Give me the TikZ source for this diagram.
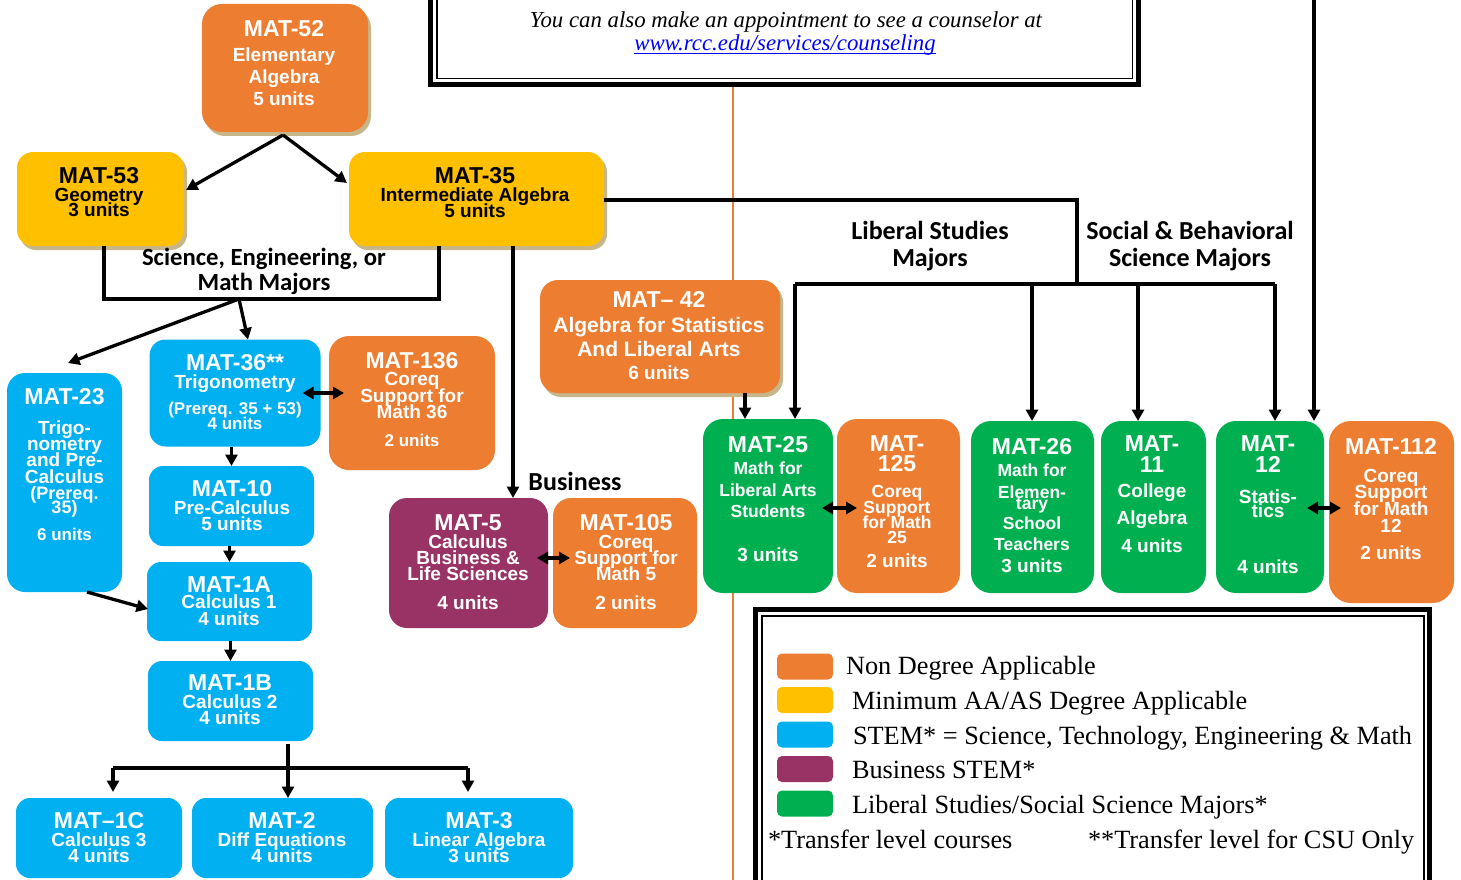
\documentclass[tikz,border=0pt]{standalone}
\usepackage{fontspec}
\setmainfont{Liberation Serif}
\setsansfont{Liberation Sans}
\newfontfamily\labfont{Carlito}
\usetikzlibrary{arrows.meta,calc,shadows}
\definecolor{corange}{HTML}{ED7D31}
\definecolor{cyellow}{HTML}{FFC000}
\definecolor{cblue}{HTML}{00B0F0}
\definecolor{cpurple}{HTML}{993366}
\definecolor{cgreen}{HTML}{00B050}
\definecolor{cshadow}{HTML}{C6B68A}
\definecolor{clinkc}{HTML}{0000FF}
\newcommand\fs[2]{{\fontsize{#1}{0}\selectfont #2}}
\newcommand\ttl[1]{{\fontsize{23}{0}\selectfont #1}\rule{0pt}{20pt}}
\newcommand\tightls{\lineskiplimit=-200pt\relax}
\begin{document}
\begin{tikzpicture}[x=1pt,y=-1pt,
 box/.style={rectangle, rounded corners=16pt, inner sep=0pt, outer sep=0pt},
 shd/.style={drop shadow={shadow xshift=3pt, shadow yshift=-4pt, fill=cshadow, opacity=1}},
 ctext/.style={inner sep=0pt, outer sep=0pt, align=center, anchor=north, text=white, font={\sffamily\bfseries\fontsize{19}{0}\selectfont\tightls}},
 dtext/.style={ctext, text=black},
 ln/.style={line width=3.3pt, black},
 arr/.style={ln, -{Triangle[length=11.5pt,width=12pt]}},
 darr/.style={ln, {Triangle[length=11pt,width=12pt]}-{Triangle[length=11pt,width=12pt]}},
 lab/.style={inner sep=0pt, outer sep=0pt, align=center, anchor=north, font={\labfont\bfseries\fontsize{26}{0}\selectfont\tightls}},
 leg/.style={inner sep=0pt, outer sep=0pt, anchor=base west, font={\rmfamily\fontsize{26.3}{30}\selectfont}},
 swatch/.style={rectangle, rounded corners=5pt, minimum width=56pt, minimum height=26pt, inner sep=0pt, outer sep=0pt}
]
\fill[white] (0,0) rectangle (1461,880);
\useasboundingbox (0,0) rectangle (1461,880);

% thin orange guide line
\draw[corange, line width=1.4pt] (733,87) -- (733,885);

% top note frame
\draw[line width=5pt] (430.5,-10) -- (430.5,84.5) -- (1138.5,84.5) -- (1138.5,-10);
\draw[line width=1.5pt] (437,-10) -- (437,78.5) -- (1132.5,78.5) -- (1132.5,-10);
\node[anchor=base, inner sep=0pt, font={\rmfamily\itshape\fontsize{22.8}{24}\selectfont}] (note) at (786,28) {You can also make an appointment to see a counselor at};
\node[anchor=base, inner sep=0pt, text=clinkc, font={\rmfamily\itshape\fontsize{22.8}{24}\selectfont}] (lnk) at (785,51) {www.rcc.edu/services/counseling};
\draw[clinkc, line width=1.3pt] ([yshift=-2.5pt]lnk.base west) -- ([yshift=-2.5pt]lnk.base east);

% legend frame
\draw[line width=5pt] (755.5,890) -- (755.5,609.5) -- (1429.5,609.5) -- (1429.5,890);
\draw[line width=1.5pt] (762,890) -- (762,616) -- (1424,616) -- (1424,890);
\node[swatch, fill=corange] (s1) at (805,666.5) {};
\node[swatch, fill=cyellow] (s2) at (805,700) {};
\node[swatch, fill=cblue] (s3) at (805,734.5) {};
\node[swatch, fill=cpurple] (s4) at (805,769) {};
\node[swatch, fill=cgreen] (s5) at (805,803.5) {};
\node[leg] (g1) at (846,674) {Non Degree Applicable};
\node[leg] (g2) at (852,709) {Minimum AA/AS Degree Applicable};
\node[leg] (g3) at (853,744) {STEM* = Science, Technology, Engineering \& Math};
\node[leg] (g4) at (852,778) {Business STEM*};
\node[leg] (g5) at (852,813) {Liberal Studies/Social Science Majors*};
\node[leg] (g6) at (768,848) {*Transfer level courses};
\node[leg] (g7) at (1088,848) {**Transfer level for CSU Only};

% boxes
\node[box, shd, fill=corange, rounded corners=20pt, minimum width=166pt, minimum height=128pt] (m52) at (285,68) {};
\node[ctext] (t52) at (284,17) {\ttl{MAT-52}\\[25pt]Elementary\\[22pt]Algebra\\[22pt]5 units};

\node[box, shd, fill=cyellow, minimum width=167pt, minimum height=94pt] (m53) at (100.5,199) {};
\node[dtext] (t53) at (99,163) {\ttl{MAT-53}\\[18pt]Geometry\\[15pt]3 units};

\node[box, shd, fill=cyellow, minimum width=255pt, minimum height=94pt] (m35) at (476.5,199) {};
\node[dtext] (t35) at (475,163) {\ttl{MAT-35}\\[18pt]Intermediate Algebra\\[16pt]5 units};

\node[box, shd, fill=corange, rounded corners=18pt, minimum width=240pt, minimum height=113pt] (m42) at (660,336.5) {};
\node[ctext] (t42) at (659,287) {\ttl{MAT– 42}\\[25pt]\fs{21}{Algebra for Statistics}\\[24pt]\fs{21}{And Liberal Arts}\\[23pt]6 units};

\node[box, fill=cblue, minimum width=171pt, minimum height=107pt] (m36) at (235,393) {};
\node[ctext] (t36) at (235,350) {\ttl{MAT-36**}\\[18pt]Trigonometry\\[26pt]\fs{17}{(Prereq. 35 + 53)}\\[15pt]\fs{17}{4 units}};

\node[box, fill=corange, rounded corners=20pt, minimum width=166pt, minimum height=134pt] (m136) at (412,403) {};
\node[ctext] (t136) at (412,348) {\ttl{MAT-136}\\[17pt]Coreq\\[17pt]Support for\\[16pt]Math 36\\[28pt]\fs{17}{2 units}};

\node[box, fill=cblue, rounded corners=18pt, minimum width=115pt, minimum height=219pt] (m23) at (64.5,482.5) {};
\node[ctext] (t23) at (64.5,384) {\ttl{MAT-23}\\[30pt]Trigo-\\[16pt]nometry\\[16pt]and Pre-\\[17pt]Calculus\\[16pt]\fs{18}{(Prereq.}\\[14pt]\fs{18}{35)}\\[27pt]\fs{17}{6 units}};

\node[box, fill=cblue, rounded corners=14pt, minimum width=165pt, minimum height=80pt] (m10) at (231.5,506) {};
\node[ctext] (t10) at (232,476) {\ttl{MAT-10}\\[18pt]Pre-Calculus\\[16pt]5 units};

\node[box, fill=cblue, rounded corners=14pt, minimum width=165pt, minimum height=79pt] (m1a) at (229.5,601.5) {};
\node[ctext] (t1a) at (229,572) {\ttl{MAT-1A}\\[16pt]Calculus 1\\[17pt]4 units};

\node[box, fill=cblue, rounded corners=14pt, minimum width=165pt, minimum height=80pt] (m1b) at (230.5,701) {};
\node[ctext] (t1b) at (230,670) {\ttl{MAT-1B}\\[18pt]Calculus 2\\[16pt]4 units};

\node[box, fill=cblue, rounded corners=14pt, minimum width=166pt, minimum height=80pt] (m1c) at (99,838) {};
\node[ctext] (t1c) at (99,808) {\ttl{MAT–1C}\\[18pt]Calculus 3\\[16pt]4 units};

\node[box, fill=cblue, rounded corners=14pt, minimum width=181pt, minimum height=80pt] (m2) at (282.5,838) {};
\node[ctext] (t2) at (282,808) {\ttl{MAT-2}\\[18pt]Diff Equations\\[16pt]4 units};

\node[box, fill=cblue, rounded corners=14pt, minimum width=188pt, minimum height=80pt] (m3) at (479,838) {};
\node[ctext] (t3) at (479,808) {\ttl{MAT-3}\\[18pt]Linear Algebra\\[16pt]3 units};

\node[box, fill=cpurple, rounded corners=18pt, minimum width=159pt, minimum height=130pt] (m5) at (468.5,563) {};
\node[ctext] (t5) at (468,510) {\ttl{MAT-5}\\[18pt]Calculus\\[16pt]Business \&\\[16pt]Life Sciences\\[29pt]4 units};

\node[box, fill=corange, rounded corners=18pt, minimum width=144pt, minimum height=130pt] (m105) at (625,563) {};
\node[ctext] (t105) at (626,510) {\ttl{MAT-105}\\[18pt]Coreq\\[16pt]Support for\\[16pt]Math 5\\[29pt]2 units};

\node[box, fill=cgreen, rounded corners=20pt, minimum width=130pt, minimum height=174pt] (m25) at (768,506) {};
\node[ctext] (t25) at (768,432) {\ttl{MAT-25}\\[22pt]\fs{17.5}{Math for}\\[22pt]\fs{17.5}{Liberal Arts}\\[21pt]\fs{17.5}{Students}\\[44pt]3 units};

\node[box, fill=corange, rounded corners=20pt, minimum width=123pt, minimum height=174pt] (m125) at (898.5,506) {};
\node[ctext] (t125) at (897,431) {\ttl{MAT-}\\[20pt]\fs{23}{125}\\[26pt]\fs{17.5}{Coreq}\\[16pt]\fs{17.5}{Support}\\[15pt]\fs{17.5}{for Math}\\[15pt]\fs{17.5}{25}\\[24pt]2 units};

\node[box, fill=cgreen, rounded corners=20pt, minimum width=123pt, minimum height=172pt] (m26) at (1032.5,507) {};
\node[ctext] (t26) at (1032,434) {\ttl{MAT-26}\\[22pt]\fs{17.5}{Math for}\\[22pt]\fs{17.5}{Elemen-}\\[11pt]\fs{17.5}{tary}\\[20pt]\fs{17.5}{School}\\[21pt]\fs{17.5}{Teachers}\\[22pt]3 units};

\node[box, fill=cgreen, rounded corners=20pt, minimum width=105pt, minimum height=172pt] (m11) at (1153.5,507) {};
\node[ctext] (t11) at (1152,431) {\ttl{MAT-}\\[21pt]\fs{23}{11}\\[25pt]College\\[27pt]Algebra\\[28pt]4 units};

\node[box, fill=cgreen, rounded corners=20pt, minimum width=108pt, minimum height=172pt] (m12) at (1270,507) {};
\node[ctext] (t12) at (1268,431) {\ttl{MAT-}\\[21pt]\fs{23}{12}\\[31pt]Statis-\\[14pt]tics\\[56pt]4 units};

\node[box, fill=corange, rounded corners=22pt, minimum width=125pt, minimum height=182pt] (m112) at (1391.5,512) {};
\node[ctext] (t112) at (1391,434) {\ttl{MAT-112}\\[28pt]Coreq\\[16pt]Support\\[17pt]for Math\\[17pt]12\\[27pt]2 units};

% labels
\node[lab, font={\labfont\bfseries\fontsize{24.7}{0}\selectfont\tightls}] (lsci) at (264,245) {\rule{0pt}{20pt}Science, Engineering, or\\[25pt]Math Majors};
\node[lab] (llib) at (930,219) {\rule{0pt}{20pt}Liberal Studies\\[27pt]Majors};
\node[lab] (lsoc) at (1190,219) {\rule{0pt}{20pt}Social \& Behavioral\\[27pt]Science Majors};
\node[lab, anchor=base] (lbus) at (575,490) {Business};

% connectors
\draw[arr] ([shift={(-2,3)}]m52.south) -- ([shift={(2,-9)}]m53.east);
\draw[arr] ([shift={(-2,3)}]m52.south) -- ([shift={(-2,-16)}]m35.west);

\coordinate (bl) at (104,299);
\coordinate (br) at (439,299);
\coordinate (bm) at (239,299);
\draw[ln] (m53.south -| bl) -- (bl) -- (br) -- (br |- m35.south);
\draw[arr] (bm) -- ([xshift=13pt]m36.north);
\draw[arr] (bm) -- ([shift={(3.5,-10)}]m23.north);

\draw[arr] ([xshift=36.5pt]m35.south) -- ([xshift=44.5pt]m5.north);

\coordinate (j1) at (1077,200);
\coordinate (bL) at (795,284);
\coordinate (bR) at (1275,284);
\coordinate (b26) at (1032,284);
\coordinate (b11) at (1138,284);
\draw[ln] (m35.east |- j1) -- (j1) -- (j1 |- bL);
\draw[ln] (bL) -- (bR);
\draw[arr] (bL) -- (bL |- m25.north);
\draw[arr] (b26) -- (b26 |- m26.north);
\draw[arr] (b11) -- (b11 |- m11.north);
\draw[arr] (bR) -- (bR |- m12.north);
\coordinate (rtop) at (1314,-5);
\draw[arr] (rtop) -- (rtop |- m12.north);

\coordinate (a42) at ([xshift=85pt]m42.south);
\draw[arr] (a42) -- (a42 |- m25.north);

\draw[arr] (m36.south -| m10.north) -- (m10.north);
\draw[arr] (m10.south -| m1a.north) -- (m1a.north);
\draw[arr] (m1a.south -| m1b.north) -- (m1b.north);
\draw[arr] ([xshift=22.5pt]m23.south) -- ([shift={(1,7.5)}]m1a.west);

\coordinate (v1) at ([shift={(57.5,3)}]m1b.south);
\draw[arr] (v1) -- (v1 |- m2.north);
\coordinate (hL) at (113,768);
\coordinate (hR) at (468,768);
\draw[ln] (hL) -- (hR);
\draw[arr, shorten >=6pt] (hL) -- (hL |- m1c.north);
\draw[arr, shorten >=6pt] (hR) -- (hR |- m3.north);

\draw[darr] ([xshift=-18pt]m36.east) -- ($(m136.west |- m36.east)+(15,0)$);
\draw[darr] ($(m5.east)+(-11,-5)$) -- ($(m105.west)+(17,-5)$);
\draw[darr] ($(m25.east)+(-11,2)$) -- ($(m125.west)+(20,2)$);
\draw[darr] ($(m12.east)+(-17,1)$) -- ($(m112.west)+(12,-4)$);
\end{tikzpicture}
\end{document}
